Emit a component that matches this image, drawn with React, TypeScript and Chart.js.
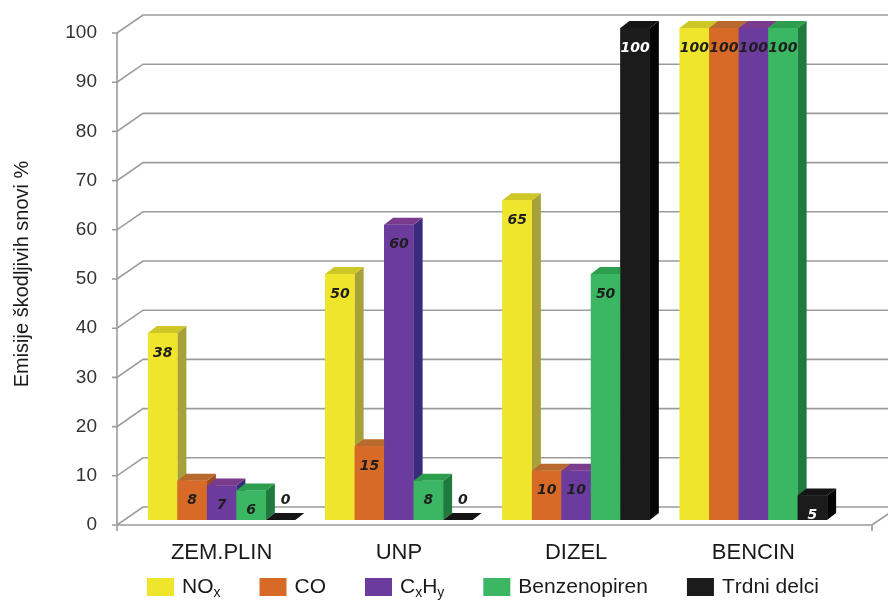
import React, { useEffect, useRef } from 'react';
import { Chart, registerables } from 'chart.js';

Chart.register(...registerables);

const categories = ['ZEM.PLIN', 'UNP', 'DIZEL', 'BENCIN'];
const noxValues = [38, 50, 65, 100];
const coValues = [8, 15, 10, 100];
const cxhyValues = [7, 60, 10, 100];
const benzenopirenValues = [6, 8, 50, 100];
const trdniDelciValues = [0, 0, 100, 5];
const seriesNames = ['NOx', 'CO', 'CxHy', 'Benzenopiren', 'Trdni delci'];
// legend labels: "_" marks the next character as subscript
const legendLabels = ['NO_x', 'CO', 'C_xH_y', 'Benzenopiren', 'Trdni delci'];
const yTickValues = [0, 10, 20, 30, 40, 50, 60, 70, 80, 90, 100];
const yTitle = 'Emisije škodljivih snovi %';

const frontColors = ['#EEE52C', '#D86A27', '#6B3B9E', '#3BB763', '#1B1B1B'];
const sideColors = ['#A8A13A', '#9C4E1E', '#3A2C7C', '#1E7A3D', '#050505'];
const topColors = ['#CFC628', '#B8692E', '#7A3B8C', '#2C9E4E', '#151515'];

const DX = 9;
const DY = 7;
const FONT = '"Liberation Sans", Arial, sans-serif';

const frame3d = {
  id: 'frame3d',
  beforeDatasetsDraw(chart: any) {
    const { ctx } = chart;
    const y = chart.scales.y;
    ctx.save();
    ctx.strokeStyle = '#9b9b9b';
    ctx.lineWidth = 1.6;
    for (const v of yTickValues) {
      const yp = y.getPixelForValue(v);
      const front = yp + 5;
      const back = yp - 13;
      ctx.beginPath();
      ctx.moveTo(112, front);
      ctx.lineTo(117, front);
      ctx.lineTo(143, back);
      ctx.lineTo(chart.width, back);
      ctx.stroke();
    }
    const y0 = y.getPixelForValue(0);
    const y100 = y.getPixelForValue(100);
    ctx.beginPath();
    ctx.moveTo(117, y100 + 5);
    ctx.lineTo(117, y0 + 11);
    ctx.stroke();
    // floor front edge
    ctx.beginPath();
    ctx.moveTo(117, y0 + 5);
    ctx.lineTo(872, y0 + 5);
    ctx.lineTo(898, y0 - 13);
    ctx.moveTo(872, y0 + 5);
    ctx.lineTo(872, y0 + 11);
    ctx.stroke();
    ctx.restore();
  },
  afterDatasetsDraw(chart: any) {
    const { ctx } = chart;
    const n = chart.data.datasets.length;
    const labels: any[] = [];
    ctx.save();
    for (let c = 0; c < chart.data.labels.length; c++) {
      for (let d = 0; d < n; d++) {
        const el = chart.getDatasetMeta(d).data[c];
        const p = el.getProps(['x', 'y', 'base', 'width'], true);
        const left = p.x - p.width / 2;
        const right = p.x + p.width / 2;
        const top = Math.min(p.y, p.base);
        const bottom = Math.max(p.y, p.base);
        // side face
        ctx.fillStyle = sideColors[d];
        ctx.beginPath();
        ctx.moveTo(right, top);
        ctx.lineTo(right + DX, top - DY);
        ctx.lineTo(right + DX, bottom - DY);
        ctx.lineTo(right, bottom);
        ctx.closePath();
        ctx.fill();
        // top face
        ctx.fillStyle = topColors[d];
        ctx.beginPath();
        ctx.moveTo(left, top);
        ctx.lineTo(left + DX, top - DY);
        ctx.lineTo(right + DX, top - DY);
        ctx.lineTo(right, top);
        ctx.closePath();
        ctx.fill();
        // front face
        if (bottom - top > 0) {
          ctx.fillStyle = frontColors[d];
          ctx.fillRect(left, top, p.width, bottom - top);
        }
        const v = chart.data.datasets[d].data[c];
        labels.push({
          text: String(v),
          x: v === 0 ? p.x + 5 : p.x,
          y: v === 0 ? bottom - 20 : top + 20,
          color: d === 4 && v > 0 ? '#ffffff' : '#1e1e1e',
        });
      }
    }
    ctx.font = 'italic bold 14px "DejaVu Sans", Verdana, sans-serif';
    ctx.textAlign = 'center';
    ctx.textBaseline = 'middle';
    for (const l of labels) {
      ctx.fillStyle = l.color;
      ctx.fillText(l.text, l.x, l.y);
    }
    ctx.restore();
  },
  afterDraw(chart: any) {
    const { ctx } = chart;
    ctx.save();
    const size = 21;
    const subSize = 14;
    let x = 147;
    const yc = 587;
    ctx.textBaseline = 'middle';
    ctx.textAlign = 'left';
    for (let i = 0; i < legendLabels.length; i++) {
      ctx.fillStyle = frontColors[i];
      ctx.fillRect(x, yc - 9, 27, 18);
      x += 27 + 8;
      const s = legendLabels[i];
      ctx.fillStyle = '#1a1a1a';
      let k = 0;
      while (k < s.length) {
        if (s[k] === '_' && k + 1 < s.length) {
          ctx.font = `${subSize}px ${FONT}`;
          ctx.fillText(s[k + 1], x, yc + 6);
          x += ctx.measureText(s[k + 1]).width;
          k += 2;
        } else {
          ctx.font = `${size}px ${FONT}`;
          ctx.fillText(s[k], x, yc);
          x += ctx.measureText(s[k]).width;
          k += 1;
        }
      }
      x += 39;
    }
    ctx.restore();
  },
};

export default function App() {
  const ref = useRef<HTMLCanvasElement | null>(null);
  useEffect(() => {
    if (!ref.current) return;
    const seriesValues = [noxValues, coValues, cxhyValues, benzenopirenValues, trdniDelciValues];
    const chart = new Chart(ref.current, {
      type: 'bar',
      data: {
        labels: categories,
        datasets: seriesNames.map((name, i) => ({
          label: name,
          data: seriesValues[i],
          backgroundColor: frontColors[i],
          borderWidth: 0,
          barPercentage: 1,
          categoryPercentage: 0.832,
        })),
      },
      options: {
        animation: false,
        responsive: false,
        maintainAspectRatio: false,
        layout: { padding: { left: 0, right: 46, top: 28, bottom: 0 } },
        plugins: {
          legend: { display: false },
          tooltip: { enabled: false },
        },
        scales: {
          x: {
            grid: { display: false, drawTicks: false },
            border: { display: false },
            ticks: {
              padding: 20,
              color: '#1a1a1a',
              font: { family: FONT, size: 22 },
            },
            afterFit: (s: any) => {
              s.height = 81;
              s.paddingLeft = 0;
              s.paddingRight = 0;
            },
          },
          y: {
            min: 0,
            max: 100,
            grid: { display: false, drawTicks: false },
            border: { display: false },
            ticks: {
              stepSize: 10,
              padding: 36,
              labelOffset: 5,
              color: '#333333',
              font: { family: FONT, size: 19 },
            },
            title: {
              display: true,
              text: yTitle,
              color: '#1a1a1a',
              font: { family: FONT, size: 20 },
              padding: { top: 10, bottom: 0 },
            },
            afterFit: (s: any) => {
              s.width = 133;
              s.paddingTop = 0;
              s.paddingBottom = 0;
            },
          },
        },
      },
      plugins: [frame3d],
    });
    return () => chart.destroy();
  }, []);
  return (
    <div style={{ position: 'absolute', left: 0, top: 0, width: 888, height: 601, background: '#fff' }}>
      <canvas ref={ref} width={888} height={601} />
    </div>
  );
}
